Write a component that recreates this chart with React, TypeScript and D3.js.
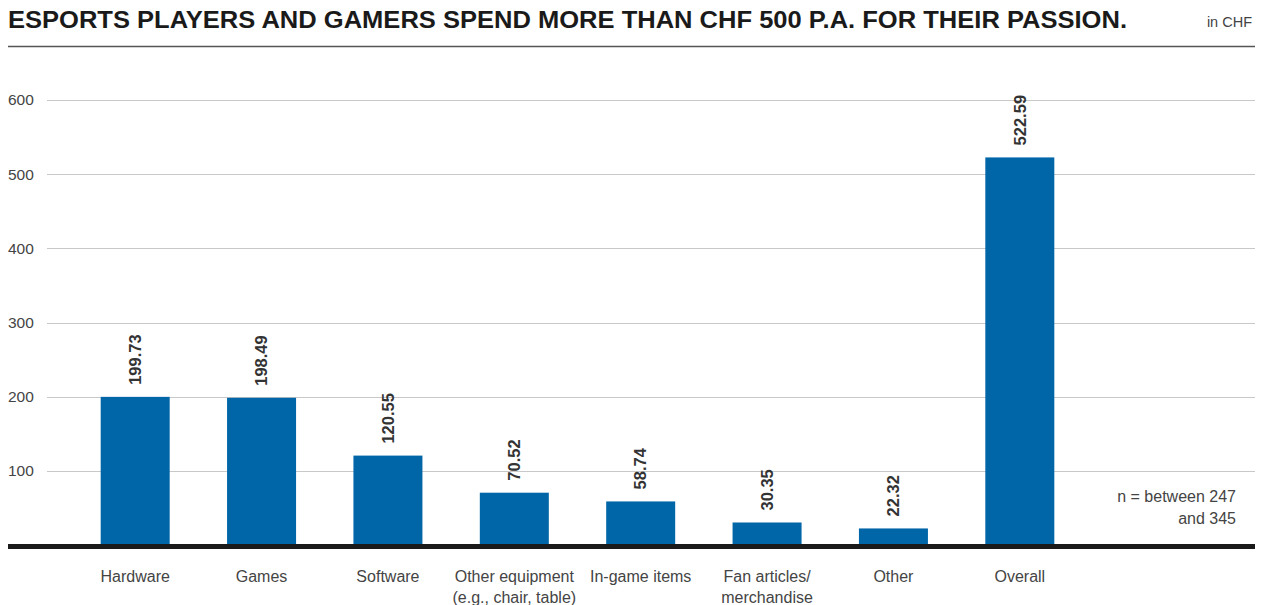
import React from "react";
import * as d3 from "d3";

const categories: string[][] = [
  ["Hardware"],
  ["Games"],
  ["Software"],
  ["Other equipment", "(e.g., chair, table)"],
  ["In-game items"],
  ["Fan articles/", "merchandise"],
  ["Other"],
  ["Overall"],
];
const values: number[] = [199.73, 198.49, 120.55, 70.52, 58.74, 30.35, 22.32, 522.59];
const yTicks: number[] = [100, 200, 300, 400, 500, 600];
const title = "ESPORTS PLAYERS AND GAMERS SPEND MORE THAN CHF 500 P.A. FOR THEIR PASSION.";
const unit = "in CHF";
const noteLines = ["n = between 247", "and 345"];

const W = 1264;
const H = 605;
const FONT = "'Liberation Sans', Arial, Helvetica, sans-serif";

export default function App() {
  const keys = categories.map((c) => c.join(" "));
  const x = d3.scaleBand<string>().domain(keys).range([72, 1083]).paddingInner(0.454).paddingOuter(0.227);
  const y = d3.scaleLinear().domain([0, 600]).range([545, 100]);
  const fmt = d3.format(".2f");

  return (
    <svg width={W} height={H} style={{ position: "absolute", left: 0, top: 0, fontFamily: FONT }}>
      <text x={8} y={28.3} fontSize={23.5} fontWeight="bold" fill="#1a1a1a" textLength={1119} lengthAdjust="spacingAndGlyphs">{title}</text>
      <text x={1252} y={27} fontSize={14.5} fill="#444" textAnchor="end">{unit}</text>
      <line x1={8} x2={1255} y1={46.5} y2={46.5} stroke="#555" strokeWidth={1.5} />

      {yTicks.map((t) => (
        <g key={t}>
          <line x1={47} x2={1255} y1={Math.round(y(t)) + 0.5} y2={Math.round(y(t)) + 0.5} stroke="#c8c8c8" strokeWidth={1} />
          <text x={8} y={y(t)} dy="0.35em" fontSize={15.5} fill="#444">{t}</text>
        </g>
      ))}

      {values.map((v, i) => {
        const k = keys[i];
        const bx = x(k)!;
        const cx = bx + x.bandwidth() / 2;
        return (
          <g key={k}>
            <rect x={bx} y={y(v)} width={x.bandwidth()} height={y(0) - y(v)} fill="#0066a8" />
            <text
              transform={`translate(${cx},${y(v) - 12}) rotate(-90)`}
              dy="0.35em"
              fontSize={16.5}
              fontWeight="bold"
              fill="#333"
            >
              {fmt(v)}
            </text>
            {categories[i].map((line, j) => (
              <text key={j} x={cx} y={581.5 + j * 21} textAnchor="middle" fontSize={16} fill="#444">
                {line}
              </text>
            ))}
          </g>
        );
      })}

      <line x1={8} x2={1255} y1={546.5} y2={546.5} stroke="#1a1a1a" strokeWidth={5} />

      {noteLines.map((l, i) => (
        <text key={i} x={1236} y={502 + i * 21.5} textAnchor="end" fontSize={16} fill="#444">{l}</text>
      ))}
    </svg>
  );
}
